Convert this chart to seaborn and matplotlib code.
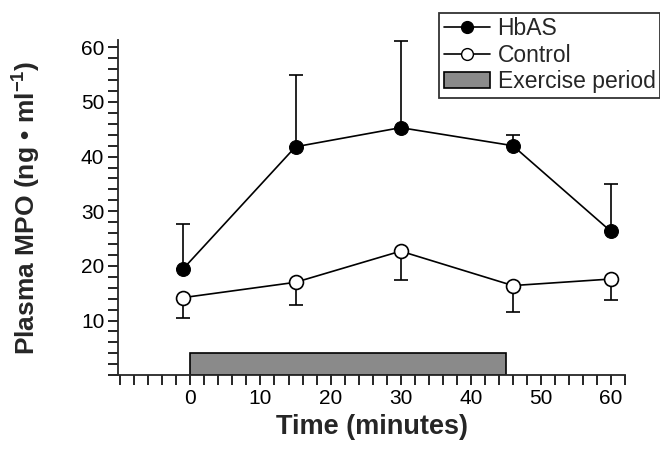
import numpy as np
import pandas as pd
import matplotlib
matplotlib.use('Agg')
import matplotlib.pyplot as plt
import seaborn as sns
from matplotlib.lines import Line2D
from matplotlib.patches import Patch

# data
times_hbas = [-1, 15, 30, 46, 60]
times_ctrl = [-1, 15, 30, 46, 60]
hbas_mean = [19.5, 41.8, 45.3, 42.0, 26.3]
hbas_err = [8.1, 13.2, 15.9, 1.9, 8.6]      # plotted upward only
ctrl_mean = [14.2, 17.0, 22.7, 16.4, 17.6]
ctrl_err = [3.8, 4.1, 5.3, 4.8, 3.9]        # plotted downward only
exercise_start, exercise_end, exercise_height = 0, 45, 4

sns.set_style('ticks')
plt.rcParams.update({
    'font.family': ['Liberation Sans', 'DejaVu Sans'],
    'mathtext.fontset': 'custom',
    'mathtext.bf': 'Liberation Sans:bold',
    'mathtext.rm': 'Liberation Sans',
    'axes.linewidth': 1.3,
    'xtick.major.width': 1.2, 'ytick.major.width': 1.2,
    'xtick.minor.width': 1.2, 'ytick.minor.width': 1.2,
})

df = pd.DataFrame({
    'time': times_hbas + times_ctrl,
    'mpo': hbas_mean + ctrl_mean,
    'group': ['HbAS'] * len(times_hbas) + ['Control'] * len(times_ctrl),
})

fig = plt.figure(figsize=(6.6, 4.57), dpi=100)
ax = fig.add_axes([0.179, 0.179, 0.768, 0.733])

# exercise period bar
ax.bar(exercise_start, exercise_height, width=exercise_end - exercise_start,
       align='edge', color='#8a8a8a', edgecolor='black', linewidth=1.2, zorder=1)

# one-sided error bars
ax.errorbar(times_hbas, hbas_mean, yerr=[np.zeros(len(hbas_err)), hbas_err],
            fmt='none', ecolor='black', elinewidth=1.2, capsize=5, capthick=1.2, zorder=2)
ax.errorbar(times_ctrl, ctrl_mean, yerr=[ctrl_err, np.zeros(len(ctrl_err))],
            fmt='none', ecolor='black', elinewidth=1.2, capsize=5, capthick=1.2, zorder=2)

sns.lineplot(data=df[df.group == 'HbAS'], x='time', y='mpo', color='black',
             marker='o', markersize=10, markerfacecolor='black', markeredgecolor='black',
             linewidth=1.2, ax=ax, zorder=3, legend=False)
sns.lineplot(data=df[df.group == 'Control'], x='time', y='mpo', color='black',
             marker='o', markersize=10, markerfacecolor='white', markeredgecolor='black',
             markeredgewidth=1.2, linewidth=1.2, ax=ax, zorder=3, legend=False)

ax.set_xlim(-10.3, 62)
ax.set_ylim(0, 61.3)
ax.set_xticks(np.arange(0, 61, 10))
ax.set_xticks(np.arange(-10, 63, 2), minor=True)
ax.set_yticks(np.arange(10, 61, 10))
ax.set_yticks(np.arange(0, 61, 2), minor=True)
ax.tick_params(which='both', direction='out', length=7, labelsize=15, colors='black', pad=3)
sns.despine(ax=ax)

ax.set_xlabel('Time (minutes)', fontsize=19.5, fontweight='bold', labelpad=4)
ax.set_ylabel(r'Plasma MPO (ng • ml$^{\mathbf{-1}}$)', fontsize=19, fontweight='bold', labelpad=28)

handles = [
    Line2D([], [], color='black', marker='o', markersize=8.5, markerfacecolor='black', linewidth=1.2),
    Line2D([], [], color='black', marker='o', markersize=8.5, markerfacecolor='white', linewidth=1.2),
    Patch(facecolor='#8a8a8a', edgecolor='black', linewidth=1.2),
]
leg = fig.legend(handles, ['HbAS', 'Control', 'Exercise period'], loc='upper right',
                 bbox_to_anchor=(1.0, 0.972), fontsize=16.5, frameon=True, fancybox=False,
                 edgecolor='black', handlelength=2.0, handletextpad=0.35,
                 borderpad=0.2, labelspacing=0.15, borderaxespad=0.0)
leg.get_frame().set_linewidth(1.3)

fig.savefig('out.png', dpi=100, facecolor='white')
